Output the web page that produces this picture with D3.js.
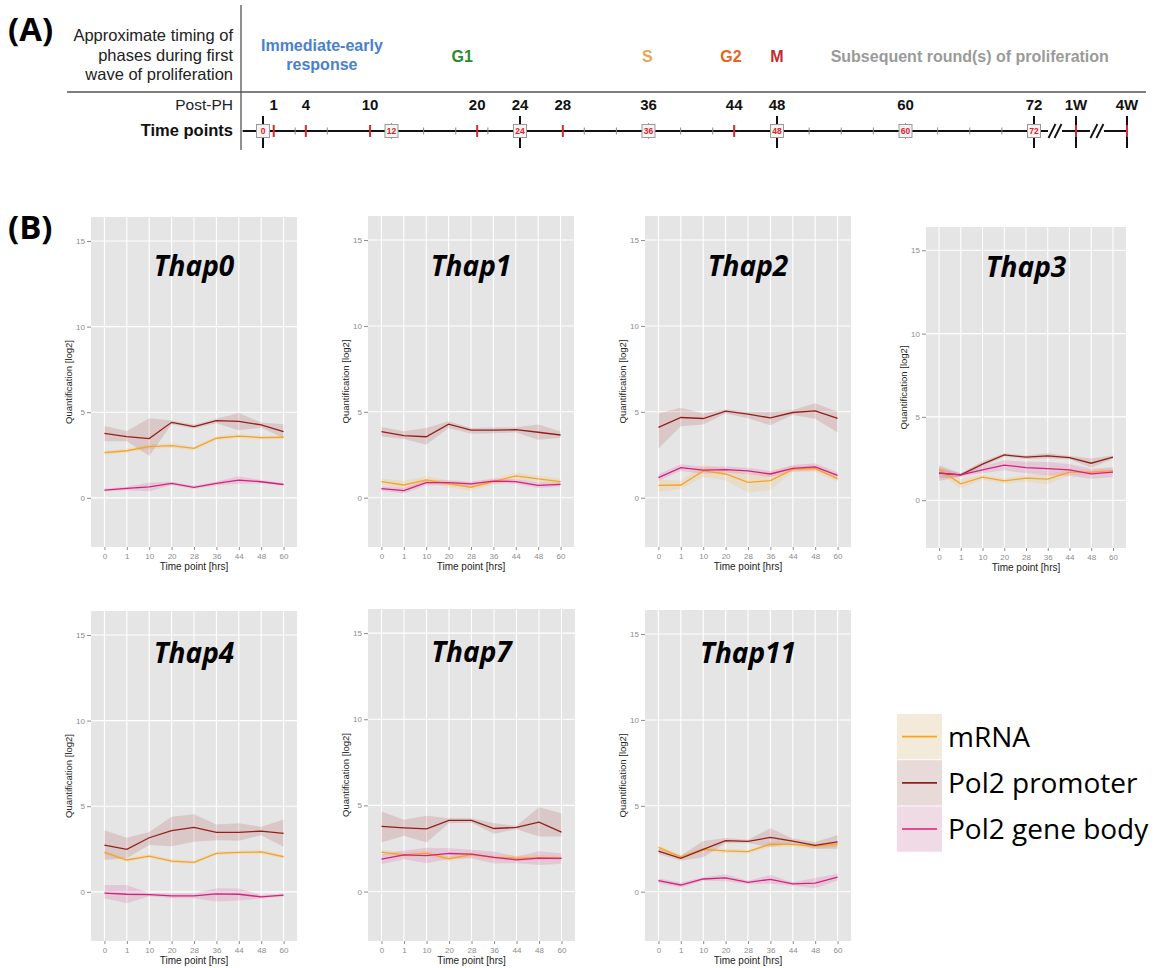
<!DOCTYPE html>
<html>
<head>
<meta charset="utf-8">
<script src="https://cdn.jsdelivr.net/npm/d3@7.9.0/dist/d3.min.js"></script>
<style>
  body { margin: 0; background: #fff; }
  svg { display: block; }
</style>
</head>
<body>
<svg id="chart" width="1158" height="968"></svg>
<script>
// ---- panel A: timeline ----
const phaseLabels = [['Immediate-early', 'response'], ['G1'], ['S'], ['G2'], ['M'], ['Subsequent round(s) of proliferation']];
const phaseHours = [5.5, 18.6, 35.9, 43.7, 48, 66];
const phaseColors = ['#4a80cc', '#2a8a34', '#eaa457', '#e4661e', '#c8282e', '#9a9a9a'];

const postPhLabels = ['1', '4', '10', '20', '24', '28', '36', '44', '48', '60', '72', '1W', '4W'];
const postPhHours = [1, 4, 10, 20, 24, 28, 36, 44, 48, 60, 72, 168, 672];
const redTickHours = [1, 4, 10, 20, 28, 44, 168, 672];
const crossHours = [0, 24, 48, 72, 168, 672];
const boxHours = [0, 12, 24, 36, 48, 60, 72];
const grayTickHours = [3, 6, 15, 18, 21, 30, 33, 39, 42, 51, 54, 57, 63, 66, 69];
const breakHours = [120, 375];

// ---- panel B: expression profiles ----
const genes = ['Thap0', 'Thap1', 'Thap2', 'Thap3', 'Thap4', 'Thap7', 'Thap11'];
const timeLabels = ['0', '1', '10', '20', '28', '36', '44', '48', '60'];
const seriesNames = ['mRNA', 'Pol2 promoter', 'Pol2 gene body'];

const mrnaMean = [
  [2.64, 2.75, 2.99, 3.05, 2.89, 3.48, 3.61, 3.52, 3.54],
  [0.94, 0.74, 1.04, 0.80, 0.61, 0.94, 1.27, 1.09, 0.94],
  [0.72, 0.74, 1.56, 1.38, 0.89, 0.99, 1.65, 1.70, 1.10],
  [1.86, 0.98, 1.38, 1.16, 1.32, 1.26, 1.68, 1.68, 1.78],
  [2.31, 1.86, 2.09, 1.80, 1.72, 2.25, 2.31, 2.33, 2.05],
  [2.29, 2.13, 2.23, 1.90, 2.15, 1.98, 1.94, 1.96, 1.94],
  [2.58, 2.03, 2.46, 2.38, 2.33, 2.77, 2.75, 2.65, 2.75]
];
const mrnaLow = [
  [2.52, 2.63, 2.85, 2.92, 2.78, 3.36, 3.50, 3.42, 3.44],
  [0.75, 0.50, 0.85, 0.60, 0.40, 0.75, 1.05, 0.90, 0.80],
  [0.35, 0.50, 1.20, 1.00, 0.30, 0.45, 1.50, 1.50, 0.95],
  [1.65, 0.70, 1.22, 1.00, 1.12, 0.95, 1.50, 1.52, 1.68],
  [2.20, 1.76, 1.99, 1.70, 1.62, 2.15, 2.21, 2.22, 1.95],
  [2.15, 1.98, 2.08, 1.76, 2.00, 1.84, 1.80, 1.82, 1.80],
  [2.45, 1.92, 2.35, 2.26, 2.22, 2.62, 2.62, 2.50, 2.60]
];
const mrnaHigh = [
  [2.76, 2.87, 3.12, 3.20, 3.00, 3.60, 3.74, 3.62, 3.64],
  [1.12, 0.98, 1.25, 1.00, 0.82, 1.12, 1.45, 1.28, 1.10],
  [1.05, 1.00, 1.90, 1.70, 1.40, 1.50, 1.85, 1.90, 1.30],
  [2.05, 1.28, 1.52, 1.32, 1.52, 1.56, 1.86, 1.84, 1.90],
  [2.42, 1.96, 2.19, 1.90, 1.82, 2.35, 2.41, 2.44, 2.15],
  [2.43, 2.28, 2.38, 2.04, 2.30, 2.12, 2.08, 2.10, 2.08],
  [2.71, 2.14, 2.57, 2.50, 2.44, 2.92, 2.88, 2.80, 2.90]
];

const promoterMean = [
  [3.77, 3.57, 3.46, 4.41, 4.16, 4.51, 4.47, 4.26, 3.87],
  [3.85, 3.61, 3.55, 4.28, 3.93, 3.93, 3.96, 3.81, 3.65],
  [4.09, 4.67, 4.61, 5.04, 4.86, 4.65, 4.96, 5.05, 4.62],
  [1.62, 1.52, 2.16, 2.72, 2.58, 2.66, 2.56, 2.22, 2.58],
  [2.73, 2.48, 3.16, 3.57, 3.76, 3.47, 3.47, 3.55, 3.41],
  [3.78, 3.70, 3.64, 4.13, 4.13, 3.66, 3.72, 4.03, 3.45],
  [2.36, 1.94, 2.46, 2.97, 2.93, 3.16, 2.95, 2.70, 2.90]
];
const promoterLow = [
  [3.30, 3.30, 2.45, 4.30, 4.05, 4.35, 3.95, 4.10, 3.50],
  [3.57, 3.42, 3.09, 4.06, 3.73, 3.75, 3.80, 3.38, 3.48],
  [2.86, 4.16, 4.26, 4.90, 4.62, 4.22, 4.82, 4.60, 3.80],
  [1.15, 1.42, 2.00, 2.62, 2.48, 2.50, 2.46, 1.95, 2.48],
  [1.86, 1.96, 2.73, 2.67, 2.93, 3.02, 2.98, 3.30, 2.63],
  [2.85, 3.24, 2.85, 3.97, 4.00, 3.35, 3.62, 3.20, 3.20],
  [2.20, 1.80, 2.00, 2.82, 2.83, 2.60, 2.80, 2.50, 2.50]
];
const promoterHigh = [
  [4.20, 3.90, 4.65, 4.52, 4.27, 4.62, 4.95, 4.40, 4.30],
  [4.12, 3.87, 4.06, 4.45, 4.06, 4.08, 4.10, 4.26, 3.87],
  [4.90, 5.23, 4.90, 5.14, 5.02, 5.00, 5.10, 5.50, 5.00],
  [2.10, 1.62, 2.32, 2.82, 2.68, 2.82, 2.66, 2.50, 2.68],
  [3.60, 3.16, 3.50, 4.38, 4.53, 3.93, 4.00, 3.80, 4.22],
  [4.65, 4.17, 4.40, 4.26, 4.25, 3.97, 3.82, 4.90, 4.55],
  [2.52, 2.10, 2.95, 3.12, 3.03, 3.70, 3.10, 2.90, 3.30]
];

const geneBodyMean = [
  [0.45, 0.55, 0.64, 0.84, 0.61, 0.84, 1.04, 0.94, 0.78],
  [0.53, 0.41, 0.88, 0.88, 0.80, 0.96, 0.94, 0.72, 0.78],
  [1.17, 1.75, 1.60, 1.63, 1.56, 1.38, 1.71, 1.80, 1.30],
  [1.62, 1.52, 1.82, 2.10, 1.96, 1.90, 1.82, 1.58, 1.68],
  [-0.08, -0.14, -0.16, -0.23, -0.23, -0.12, -0.14, -0.29, -0.19],
  [1.88, 2.13, 2.09, 2.21, 2.17, 1.98, 1.84, 1.94, 1.92],
  [0.64, 0.39, 0.74, 0.81, 0.54, 0.72, 0.45, 0.50, 0.85]
];
const geneBodyLow = [
  [0.37, 0.45, 0.38, 0.74, 0.52, 0.72, 0.82, 0.84, 0.70],
  [0.40, 0.25, 0.72, 0.74, 0.66, 0.82, 0.80, 0.56, 0.64],
  [0.97, 1.55, 1.40, 1.45, 1.38, 1.20, 1.52, 1.60, 1.12],
  [1.32, 1.42, 1.62, 1.80, 1.61, 1.50, 1.47, 1.28, 1.38],
  [-0.37, -0.66, -0.26, -0.38, -0.38, -0.56, -0.50, -0.39, -0.29],
  [1.58, 1.88, 1.64, 1.91, 1.92, 1.63, 1.64, 1.54, 1.62],
  [0.49, 0.24, 0.64, 0.61, 0.44, 0.47, 0.35, 0.20, 0.65]
];
const geneBodyHigh = [
  [0.53, 0.65, 0.90, 0.94, 0.70, 0.96, 1.26, 1.04, 0.86],
  [0.66, 0.57, 1.04, 1.02, 0.94, 1.10, 1.08, 0.88, 0.92],
  [1.37, 1.95, 1.80, 1.81, 1.74, 1.56, 1.90, 2.00, 1.48],
  [1.92, 1.62, 2.02, 2.40, 2.31, 2.30, 2.17, 1.88, 1.98],
  [0.40, 0.40, -0.06, -0.08, -0.08, 0.21, 0.20, -0.19, -0.09],
  [2.18, 2.38, 2.54, 2.51, 2.42, 2.33, 2.04, 2.34, 2.22],
  [0.79, 0.54, 0.84, 1.01, 0.64, 0.97, 0.55, 0.80, 1.05]
];

const yTicks = [0, 5, 10, 15];

// layout of the small multiples (pixels)
const panels = [
  { x: 91,  y: 217, w: 206, h: 330, titleY: 275.5 },
  { x: 368, y: 216, w: 206, h: 331, titleY: 275.5 },
  { x: 645, y: 216, w: 206, h: 331, titleY: 275.5 },
  { x: 926, y: 227, w: 200, h: 321, titleY: 276.5 },
  { x: 91,  y: 611, w: 206, h: 330, titleY: 662.5 },
  { x: 368, y: 609, w: 207, h: 332, titleY: 662 },
  { x: 645, y: 610, w: 206, h: 331, titleY: 662.5 }
];

const lineColors = ['#f7a423', '#931f18', '#d81f7c'];
const sans = 'Liberation Sans, Arial, sans-serif';
const myriad = 'Open Sans, Noto Sans, sans-serif';

const svg = d3.select('#chart');

// ---------- (A) ----------
function drawTimeline() {
  const t = d3.scaleLinear().domain([0, 72, 168, 672]).range([263, 1034, 1076, 1127]);
  const lineY = 131;
  const g = svg.append('g');

  g.append('text').attr('x', 8).attr('y', 41)
    .style('font', `bold 33px ${myriad}`).text('(A)');

  g.append('line').attr('x1', 241).attr('x2', 241).attr('y1', 5).attr('y2', 150)
    .attr('stroke', '#555').attr('stroke-width', 1.3);
  g.append('line').attr('x1', 67).attr('x2', 1146).attr('y1', 92).attr('y2', 92)
    .attr('stroke', '#555').attr('stroke-width', 1.3);

  const leftText = ['Approximate timing of', 'phases during first', 'wave of proliferation'];
  g.selectAll('.lt').data(leftText).enter().append('text')
    .attr('x', 233).attr('y', (d, i) => 41 + i * 19.5)
    .attr('text-anchor', 'end')
    .style('font', `16.5px ${sans}`).attr('fill', '#222').text(d => d);
  g.append('text').attr('x', 233).attr('y', 110).attr('text-anchor', 'end')
    .style('font', `15.5px ${sans}`).attr('fill', '#222').text('Post-PH');
  g.append('text').attr('x', 233).attr('y', 136).attr('text-anchor', 'end')
    .style('font', `bold 16.5px ${sans}`).attr('fill', '#111').text('Time points');

  // phase labels
  phaseLabels.forEach((lines, i) => {
    const txt = g.append('text')
      .attr('x', t(phaseHours[i]))
      .attr('text-anchor', 'middle')
      .attr('fill', phaseColors[i])
      .style('font', `bold 16px ${sans}`);
    const y0 = lines.length > 1 ? 51 : 62;
    lines.forEach((l, j) => {
      txt.append('tspan').attr('x', t(phaseHours[i])).attr('y', y0 + j * 19).text(l);
    });
  });

  // main axis line
  g.append('line').attr('x1', t(-1.9)).attr('x2', t(672)).attr('y1', lineY).attr('y2', lineY)
    .attr('stroke', '#111').attr('stroke-width', 2);

  g.selectAll('.gt').data(grayTickHours).enter().append('line')
    .attr('x1', d => t(d)).attr('x2', d => t(d))
    .attr('y1', lineY - 3.5).attr('y2', lineY + 3.5)
    .attr('stroke', '#888').attr('stroke-width', 1);

  g.selectAll('.bt').data(boxHours).enter().append('line')
    .attr('x1', d => t(d)).attr('x2', d => t(d))
    .attr('y1', lineY - 8).attr('y2', lineY + 8)
    .attr('stroke', '#999').attr('stroke-width', 1);

  g.selectAll('.ct').data(crossHours).enter().append('line')
    .attr('x1', d => t(d)).attr('x2', d => t(d))
    .attr('y1', lineY - 15).attr('y2', lineY + 17)
    .attr('stroke', '#111').attr('stroke-width', 2);

  g.selectAll('.rt').data(redTickHours).enter().append('line')
    .attr('x1', d => t(d)).attr('x2', d => t(d))
    .attr('y1', lineY - 6).attr('y2', lineY + 6)
    .attr('stroke', '#d42a36').attr('stroke-width', 2);

  // axis breaks
  breakHours.forEach(h => {
    const bx = t(h);
    g.append('rect').attr('x', bx - 7).attr('y', lineY - 3).attr('width', 14).attr('height', 6)
      .attr('fill', '#fff');
    [-3, 3].forEach(dx => {
      g.append('line')
        .attr('x1', bx + dx - 3.5).attr('y1', lineY + 7)
        .attr('x2', bx + dx + 3.5).attr('y2', lineY - 7)
        .attr('stroke', '#111').attr('stroke-width', 1.8);
    });
  });

  // boxed sample points
  const boxes = g.selectAll('.box').data(boxHours).enter().append('g')
    .attr('transform', d => `translate(${t(d)},${lineY})`);
  boxes.append('rect').attr('x', -6.5).attr('y', -6.5).attr('width', 13).attr('height', 13)
    .attr('fill', '#f7f3f3').attr('stroke', '#9a9a9a').attr('stroke-width', 1);
  boxes.append('text').attr('y', 3).attr('text-anchor', 'middle')
    .attr('fill', '#e0202c').style('font', `bold 8.5px ${sans}`).text(d => d);

  g.selectAll('.pl').data(postPhLabels).enter().append('text')
    .attr('x', (d, i) => t(postPhHours[i]))
    .attr('y', 110)
    .attr('text-anchor', 'middle')
    .style('font', `bold 15px ${sans}`).attr('fill', '#111')
    .text(d => d);
}

// ---------- (B) ----------
function drawPanel(k) {
  const p = panels[k];
  const x = d3.scalePoint().domain(timeLabels).range([p.x, p.x + p.w]).padding(0.6);
  const y = d3.scaleLinear().domain([-2.87, 16.4]).range([p.y + p.h, p.y]);
  const g = svg.append('g');

  g.append('rect').attr('x', p.x).attr('y', p.y).attr('width', p.w).attr('height', p.h)
    .attr('fill', '#e5e5e5');

  g.selectAll('.gy').data(yTicks).enter().append('line')
    .attr('x1', p.x).attr('x2', p.x + p.w)
    .attr('y1', d => y(d)).attr('y2', d => y(d))
    .attr('stroke', '#fff').attr('stroke-width', 1.1);
  g.selectAll('.gx').data(timeLabels).enter().append('line')
    .attr('x1', d => x(d)).attr('x2', d => x(d))
    .attr('y1', p.y).attr('y2', p.y + p.h)
    .attr('stroke', '#fff').attr('stroke-width', 1.1);

  // y axis
  const yAxis = g.append('g').attr('transform', `translate(${p.x},0)`)
    .call(d3.axisLeft(y).tickValues(yTicks).tickSize(4).tickPadding(2));
  yAxis.select('.domain').remove();
  yAxis.selectAll('line').attr('stroke', '#8c8c8c');
  yAxis.selectAll('text').attr('fill', '#8c8c8c').style('font', `8px ${sans}`);

  // x axis
  const xAxis = g.append('g').attr('transform', `translate(0,${p.y + p.h})`)
    .call(d3.axisBottom(x).tickSize(3).tickPadding(3));
  xAxis.select('.domain').remove();
  xAxis.selectAll('line').attr('stroke', '#8c8c8c');
  xAxis.selectAll('text').attr('fill', '#8c8c8c').style('font', `8px ${sans}`);

  g.append('text')
    .attr('x', p.x + p.w / 2).attr('y', p.y + p.h + 23)
    .attr('text-anchor', 'middle')
    .style('font', `10px ${sans}`).attr('fill', '#222')
    .text('Time point [hrs]');
  g.append('text')
    .attr('transform', `translate(${p.x - 19},${p.y + p.h / 2}) rotate(-90)`)
    .attr('text-anchor', 'middle')
    .style('font', `9.5px ${sans}`).attr('fill', '#222')
    .text('Quantification [log2]');

  g.append('text')
    .attr('x', p.x + p.w / 2).attr('y', p.titleY)
    .attr('text-anchor', 'middle')
    .style('font', `italic bold 28px ${myriad}`).attr('fill', '#000')
    .text(genes[k]);

  const series = [
    { mean: mrnaMean[k], lo: mrnaLow[k], hi: mrnaHigh[k] },
    { mean: promoterMean[k], lo: promoterLow[k], hi: promoterHigh[k] },
    { mean: geneBodyMean[k], lo: geneBodyLow[k], hi: geneBodyHigh[k] }
  ];

  const area = (s) => d3.area()
    .x((d, i) => x(timeLabels[i]))
    .y0((d, i) => y(s.lo[i]))
    .y1((d, i) => y(s.hi[i]));
  const line = d3.line().x((d, i) => x(timeLabels[i])).y(d => y(d));

  series.forEach((s, i) => {
    g.append('path').datum(s.mean).attr('d', area(s))
      .attr('fill', lineColors[i]).attr('fill-opacity', 0.14);
  });
  series.forEach((s, i) => {
    g.append('path').datum(s.mean).attr('d', line)
      .attr('fill', 'none').attr('stroke', lineColors[i]).attr('stroke-width', 1.3);
  });
}

function drawLegend() {
  const key = d3.scaleBand().domain(seriesNames).range([714, 851.7]).paddingInner(0.02);
  const g = svg.append('g');
  const items = g.selectAll('.lg').data(seriesNames).enter().append('g');
  items.append('rect')
    .attr('x', 897).attr('y', d => key(d)).attr('width', 45).attr('height', key.bandwidth())
    .attr('fill', '#f4f4f4');
  items.append('rect')
    .attr('x', 897).attr('y', d => key(d)).attr('width', 45).attr('height', key.bandwidth())
    .attr('fill', (d, i) => lineColors[i]).attr('fill-opacity', 0.12);
  items.append('line')
    .attr('x1', 902).attr('x2', 937)
    .attr('y1', d => key(d) + key.bandwidth() / 2).attr('y2', d => key(d) + key.bandwidth() / 2)
    .attr('stroke', (d, i) => lineColors[i]).attr('stroke-width', 1.6);
  items.append('text')
    .attr('x', 948).attr('y', d => key(d) + key.bandwidth() / 2 + 10)
    .style('font', `28px ${myriad}`).attr('fill', '#000')
    .text(d => d);
}

drawTimeline();
svg.append('text').attr('x', 8).attr('y', 239)
  .style('font', `bold 33px ${myriad}`).text('(B)');
genes.forEach((g, k) => drawPanel(k));
drawLegend();
</script>
</body>
</html>
